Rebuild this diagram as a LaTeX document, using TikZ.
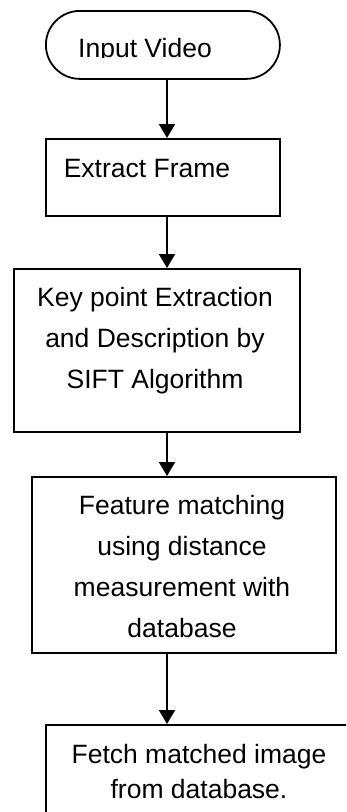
\documentclass[tikz,border=0pt]{standalone}
\usepackage{fontspec}
\setmainfont{Liberation Sans}
\usetikzlibrary{arrows.meta}
\begin{document}
\begin{tikzpicture}[x=1pt,y=-1pt,
  box/.style={draw, line width=1.8pt, inner sep=0pt, anchor=north west},
  lbl/.style={font=\fontsize{26.5}{41}\selectfont, align=center, anchor=base, inner sep=0pt},
  arr/.style={-{Triangle[width=16pt,length=14pt]}, line width=2pt}]
\clip (0,0) rectangle (346,812);
% shapes
\node[box, rounded corners=34pt, minimum width=234pt, minimum height=68pt] (t) at (45,10) {};
\node[box, minimum width=234pt, minimum height=77pt] (b2) at (45,138) {};
\node[box, minimum width=286pt, minimum height=163pt] (b3) at (13,268) {};
\node[box, minimum width=304pt, minimum height=176pt] (b4) at (31,476) {};
\node[box, minimum width=320pt, minimum height=120pt] (b5) at (45,724) {};
% texts (base anchor = baseline of the last line)
\begin{scope}
\clip (0,0) rectangle (346,57.5);
\node[lbl] (tt) at (145,57) {Input Video};
\end{scope}
\node[lbl] (t2) at (147,177) {Extract Frame};
\node[lbl] (t3) at (155,388) {Key point Extraction\\and Description by\\SIFT Algorithm};
\node[lbl] (t4) at (182,637) {Feature matching\\using distance\\measurement with\\database};
\node[lbl, font=\fontsize{26.5}{35}\selectfont] (t5) at (199,798) {Fetch matched image\\from database.};
% connectors
\coordinate (ax) at (167,0);
\draw[arr] (t.south -| ax) -- (b2.north -| ax);
\draw[arr] (b2.south -| ax) -- (b3.north -| ax);
\draw[arr] (b3.south -| ax) -- (b4.north -| ax);
\draw[arr] (b4.south -| ax) -- (b5.north -| ax);
\end{tikzpicture}
\end{document}
